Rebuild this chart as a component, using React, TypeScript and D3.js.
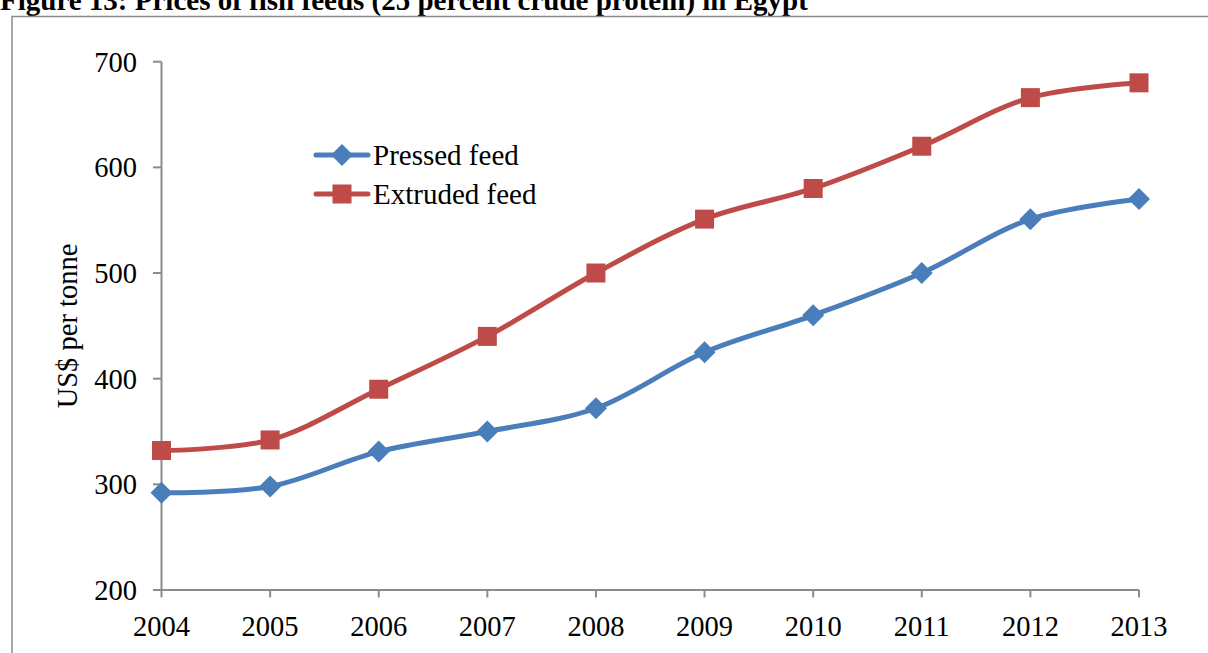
import React from "react";
import * as d3 from "d3";

const years = [2004, 2005, 2006, 2007, 2008, 2009, 2010, 2011, 2012, 2013];
const pressedFeed = [292, 298, 331, 350, 372, 425, 460, 500, 551, 570];
const extrudedFeed = [332, 342, 390, 440, 500, 551, 580, 620, 666, 680];
const yTicks = [200, 300, 400, 500, 600, 700];

const W = 1208;
const H = 653;
const FONT = "'Liberation Serif', 'Times New Roman', serif";
const BLUE = "#4a7ebb";
const RED = "#be4b48";
const AXIS = "#8c8c8c";

export default function App() {
  const x = d3.scaleLinear().domain([2004, 2013]).range([161.5, 1139]);
  const y = d3.scaleLinear().domain([200, 700]).range([590, 61.7]);

  const line = d3
    .line<number>()
    .x((_, i) => x(years[i]))
    .y((d) => y(d))
    .curve(d3.curveCatmullRom.alpha(0.5));

  const diamond = (cx: number, cy: number, r: number) =>
    `M${cx},${cy - r}L${cx + r},${cy}L${cx},${cy + r}L${cx - r},${cy}Z`;

  return (
    <svg
      width={W}
      height={H}
      style={{ position: "absolute", left: 0, top: 0, background: "#fff" }}
    >
      <text
        x={0}
        y={10}
        fontFamily={FONT}
        fontWeight="bold"
        fontSize={29}
        fill="#000"
      >
        Figure 13: Prices of fish feeds (25 percent crude protein) in Egypt
      </text>

      {/* chart frame */}
      <rect x={12} y={16.5} width={1300} height={700} fill="none" stroke={AXIS} strokeWidth={1.5} />

      {/* y axis */}
      <line x1={161.5} x2={161.5} y1={y(700)} y2={y(200)} stroke={AXIS} strokeWidth={2} />
      {yTicks.map((t) => (
        <g key={t}>
          <line x1={153} x2={161.5} y1={y(t)} y2={y(t)} stroke={AXIS} strokeWidth={2} />
          <text
            x={137}
            y={y(t)}
            dy="0.35em"
            textAnchor="end"
            fontFamily={FONT}
            fontSize={28.5}
            fill="#000"
          >
            {t}
          </text>
        </g>
      ))}

      {/* x axis */}
      <line x1={x(2004)} x2={x(2013)} y1={590} y2={590} stroke={AXIS} strokeWidth={2} />
      {years.map((yr) => (
        <g key={yr}>
          <line x1={x(yr)} x2={x(yr)} y1={590} y2={597.5} stroke={AXIS} strokeWidth={2} />
          <text
            x={x(yr)}
            y={636}
            textAnchor="middle"
            fontFamily={FONT}
            fontSize={28.5}
            fill="#000"
          >
            {yr}
          </text>
        </g>
      ))}

      <text
        transform={`translate(77,${326}) rotate(-90)`}
        textAnchor="middle"
        fontFamily={FONT}
        fontSize={28.5}
        fill="#000"
      >
        US$ per tonne
      </text>

      {/* series */}
      <path d={line(pressedFeed) ?? ""} fill="none" stroke={BLUE} strokeWidth={5} strokeLinecap="round" />
      <path d={line(extrudedFeed) ?? ""} fill="none" stroke={RED} strokeWidth={5} strokeLinecap="round" />
      {pressedFeed.map((v, i) => (
        <path key={`p${i}`} d={diamond(x(years[i]), y(v), 11)} fill={BLUE} />
      ))}
      {extrudedFeed.map((v, i) => (
        <rect
          key={`e${i}`}
          x={x(years[i]) - 9.5}
          y={y(v) - 9.5}
          width={19}
          height={19}
          fill={RED}
        />
      ))}

      {/* legend */}
      <line x1={316} x2={368} y1={155} y2={155} stroke={BLUE} strokeWidth={5} strokeLinecap="round" />
      <path d={diamond(342, 155, 11)} fill={BLUE} />
      <text x={373} y={155} dy="0.35em" fontFamily={FONT} fontSize={29} fill="#000">
        Pressed feed
      </text>
      <line x1={316} x2={368} y1={194} y2={194} stroke={RED} strokeWidth={5} strokeLinecap="round" />
      <rect x={332.5} y={184.5} width={19} height={19} fill={RED} />
      <text x={373} y={194} dy="0.35em" fontFamily={FONT} fontSize={29} fill="#000">
        Extruded feed
      </text>
    </svg>
  );
}
